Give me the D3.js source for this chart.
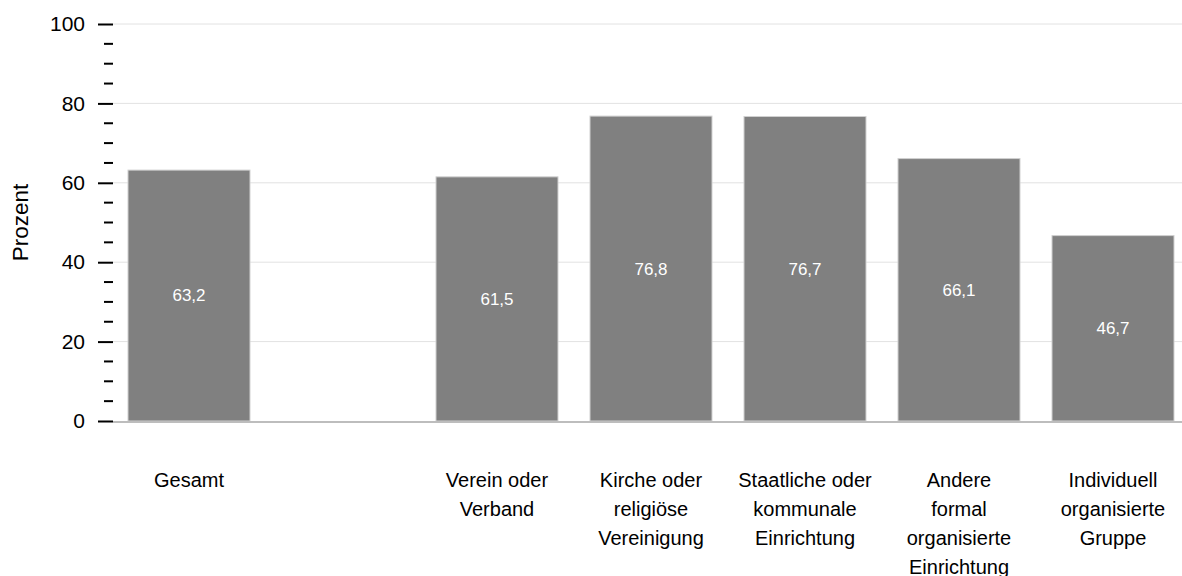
<!DOCTYPE html>
<html>
<head>
<meta charset="utf-8">
<script src="https://cdn.jsdelivr.net/npm/d3@7"></script>
<style>
    html, body { margin: 0; padding: 0; background: #fff; }
    svg { display: block; font-family: "Liberation Sans", Arial, sans-serif; }
</style>
</head>
<body>
<div id="chart"></div>
<script>
// Categories (the 'gap' key is the empty slot after "Gesamt")
const categories = ['gesamt', 'gap', 'verein', 'kirche', 'staat', 'andere', 'individuell'];
const categoryLines = [
    ['Gesamt'],
    [],
    ['Verein oder', 'Verband'],
    ['Kirche oder', 'religiöse', 'Vereinigung'],
    ['Staatliche oder', 'kommunale', 'Einrichtung'],
    ['Andere', 'formal', 'organisierte', 'Einrichtung'],
    ['Individuell', 'organisierte', 'Gruppe']
];
const values = [63.2, null, 61.5, 76.8, 76.7, 66.1, 46.7];
const valueLabels = ['63,2', '', '61,5', '76,8', '76,7', '66,1', '46,7'];
const yTicks = [0, 20, 40, 60, 80, 100];
const yMinorTicks = d3.range(0, 101, 5).filter(d => d % 20 !== 0);
const yTitle = 'Prozent';

const W = 1182, H = 576;
const margin = { top: 24, right: -8, bottom: 155, left: 112 };

const svg = d3.select('#chart').append('svg')
    .attr('width', W)
    .attr('height', H)
    .style('overflow', 'hidden');

const x = d3.scaleBand()
    .domain(categories)
    .range([margin.left, W - margin.right])
    .paddingInner(0.2078)
    .paddingOuter(0.1039);

const y = d3.scaleLinear()
    .domain([0, 100])
    .range([H - margin.bottom, margin.top]);

// Gridlines
svg.append('g')
    .selectAll('line')
    .data(yTicks.filter(d => d > 0))
    .join('line')
    .attr('x1', margin.left + 1)
    .attr('x2', W)
    .attr('y1', d => y(d))
    .attr('y2', d => y(d))
    .attr('stroke', '#e2e2e2')
    .attr('stroke-width', 1);

// Bars
const data = categories.map((c, i) => ({ key: c, value: values[i], label: valueLabels[i], lines: categoryLines[i] }));
const barData = data.filter(d => d.value != null);

svg.append('g')
    .selectAll('rect')
    .data(barData)
    .join('rect')
    .attr('x', d => x(d.key))
    .attr('y', d => y(d.value))
    .attr('width', x.bandwidth())
    .attr('height', d => y(0) - y(d.value))
    .attr('fill', '#808080')
    .attr('stroke', '#d0d0d0')
    .attr('stroke-width', 1);

// Value labels, centred in each bar
svg.append('g')
    .selectAll('text')
    .data(barData)
    .join('text')
    .attr('x', d => x(d.key) + x.bandwidth() / 2)
    .attr('y', d => y(d.value / 2))
    .attr('dy', '0.35em')
    .attr('text-anchor', 'middle')
    .attr('fill', '#fff')
    .style('font-size', '17px')
    .text(d => d.label);

// Baseline
svg.append('line')
    .attr('x1', margin.left + 1)
    .attr('x2', W)
    .attr('y1', y(0) + 1)
    .attr('y2', y(0) + 1)
    .attr('stroke', '#bdbdbd')
    .attr('stroke-width', 2);

// Y axis: major ticks with labels, minor ticks without
const yAxis = svg.append('g')
    .attr('transform', `translate(${margin.left + 1},0)`)
    .call(d3.axisLeft(y).tickValues(yTicks).tickSize(15).tickPadding(13));
yAxis.select('.domain').remove();
yAxis.selectAll('line').attr('stroke', '#000').attr('stroke-width', 2);
yAxis.selectAll('text')
    .attr('fill', '#000')
    .style('font-size', '21px')
    .style('font-family', '"Liberation Sans", Arial, sans-serif');

svg.append('g')
    .selectAll('line')
    .data(yMinorTicks)
    .join('line')
    .attr('x1', margin.left + 1 - 9)
    .attr('x2', margin.left + 1)
    .attr('y1', d => y(d))
    .attr('y2', d => y(d))
    .attr('stroke', '#000')
    .attr('stroke-width', 2);

// Y title
svg.append('text')
    .attr('transform', `translate(28,${y(50)}) rotate(-90)`)
    .attr('text-anchor', 'middle')
    .attr('fill', '#000')
    .style('font-size', '22.5px')
    .text(yTitle);

// Category labels (multi-line)
const catG = svg.append('g')
    .selectAll('text')
    .data(data)
    .join('text')
    .attr('x', d => x(d.key) + x.bandwidth() / 2)
    .attr('y', 487)
    .attr('text-anchor', 'middle')
    .attr('fill', '#000')
    .style('font-size', '20px');

catG.selectAll('tspan')
    .data(d => d.lines.map(l => ({ l, cx: x(d.key) + x.bandwidth() / 2 })))
    .join('tspan')
    .attr('x', d => d.cx)
    .attr('dy', (d, i) => i === 0 ? 0 : 29)
    .text(d => d.l);
</script>
</body>
</html>
